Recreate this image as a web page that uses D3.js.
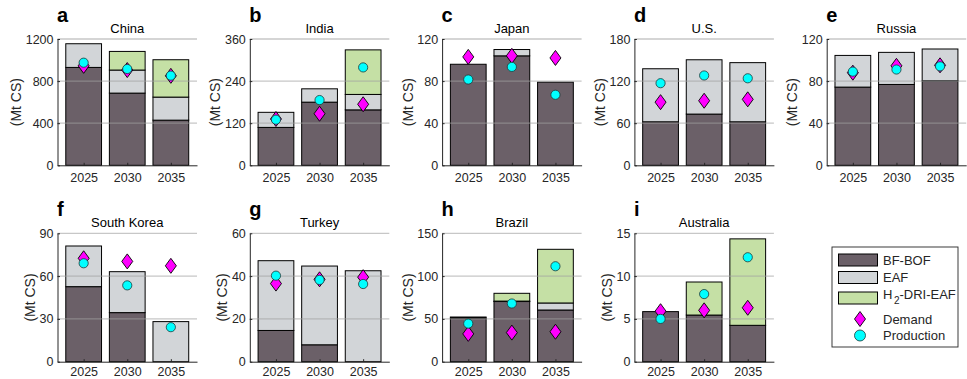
<!DOCTYPE html>
<html><head><meta charset="utf-8">
<script src="https://cdn.jsdelivr.net/npm/d3@7/dist/d3.min.js"></script>
<style>
html,body{margin:0;padding:0;background:#fff;}
svg{display:block;font-family:Arial,"Liberation Sans",sans-serif;}
</style></head>
<body>
<svg id="chart" width="967" height="379"></svg>
<script>
// ---------------- data ----------------
const countries = ["China","India","Japan","U.S.","Russia","South Korea","Turkey","Brazil","Australia"];
const letters = ["a","b","c","d","e","f","g","h","i"];
const years = ["2025","2030","2035"];
const bfbof = [[930,686,429],[108,180,158],[96,104,79],[62,73,62],[74.3,76.8,80.3],[52.6,34.4,0],[14.6,7.9,0],[51,70.3,60.4],[5.85,5.45,4.25]];
const eaf   = [[225,219,219],[43,38,44],[0,6,0],[75.6,77.4,84.3],[30.1,30.5,30.2],[28.5,28.7,28.1],[32.6,36.8,42.5],[1.2,0.5,8.2],[0,0,0]];
const h2dri = [[0,177,355],[0,0,127],[0,0,0],[0,0,0],[0,0,0],[0,0,0],[0,0,0],[0,9.1,62.7],[0,3.86,10.1]];
const demand     = [[945,905,850],[132,147,174],[103,104,102],[90,92,94],[88,94.5,95],[72.5,70.3,67.2],[36.5,38.5,39.5],[32.5,34,35],[5.9,6.0,6.3]];
const production = [[975,915,852],[130,186,279],[81.5,93.5,67],[117,128,124],[89,91,94],[69,53.5,24.2],[40.2,38.2,36.3],[44.5,68,111.5],[5.0,7.9,12.2]];
const yTicks = [[0,400,800,1200],[0,120,240,360],[0,40,80,120],[0,60,120,180],[0,40,80,120],[0,30,60,90],[0,20,40,60],[0,50,100,150],[0,5,10,15]];
const techNames = ["BF-BOF","EAF","H2-DRI-EAF"];
const markerNames = ["Demand","Production"];

// ---------------- style ----------------
const colors = ["#6b6068","#d2d5d8","#c5e0a5"];
const cDemand = "#ff00ff", cProd = "#00ffff";
const txt = "#262626";
const svg = d3.select("#chart");
const rowTop = [39, 233.3], rowH = [126.3, 128.4];
const xPad = [8, 5.5];
const panelW = 139.5;
const colLeft = c => 57.5 + c*192.3;

const diamond = (cx, cy) => `M${cx},${cy-7.5}L${cx+5.5},${cy}L${cx},${cy+7.5}L${cx-5.5},${cy}Z`;

countries.forEach((name, i) => {
  const row = i < 5 ? 0 : 1;
  const col = i < 5 ? i : i - 5;
  const x0 = colLeft(col), y0 = rowTop[row], h = rowH[row], w = panelW;
  const ticks = yTicks[i];
  const y = d3.scaleLinear().domain([0, ticks[ticks.length-1]]).range([h, 0]);
  const x = d3.scaleLinear().domain([0.4, 3.6]).range([0, w]);
  const bw = x(1.82) - x(1);
  const g = svg.append("g").attr("transform", `translate(${x0},${y0})`);

  // stacked bars
  years.forEach((yr, j) => {
    const vals = [bfbof[i][j], eaf[i][j], h2dri[i][j]];
    let base = 0;
    vals.forEach((v, k) => {
      if (v > 0) {
        g.append("rect")
          .attr("x", x(j+1) - bw/2)
          .attr("y", y(base + v))
          .attr("width", bw)
          .attr("height", y(base) - y(base + v))
          .attr("fill", colors[k])
          .attr("stroke", "#000")
          .attr("stroke-width", 1);
      }
      base += v;
    });
  });

  // grid (on top, semi-transparent)
  g.selectAll("line.grid").data(ticks.filter(t => t > 0)).enter().append("line")
    .attr("x1", 0).attr("x2", w)
    .attr("y1", d => y(d)).attr("y2", d => y(d))
    .attr("stroke", "#a2a2a2").attr("stroke-opacity", 0.6).attr("stroke-width", 1.3);

  // axes
  const ya = g.append("g").call(d3.axisLeft(y).tickValues(ticks).tickFormat(d3.format("d")).tickSizeInner(-2.5).tickSizeOuter(0).tickPadding(4));
  const xa = g.append("g").attr("transform", `translate(0,${h})`)
    .call(d3.axisBottom(x).tickValues([1,2,3]).tickFormat(d => years[d-1]).tickSizeInner(-2.5).tickSizeOuter(0).tickPadding(xPad[row]));
  [ya, xa].forEach(a => {
    a.selectAll("path,line").attr("stroke", txt).attr("stroke-width", 1);
    a.selectAll("text").attr("fill", txt).style("font-size", "12.5px").style("font-family", "Arial,'Liberation Sans',sans-serif");
  });

  // y label
  let maxW = 0;
  ya.selectAll("text").each(function(){ maxW = Math.max(maxW, this.getComputedTextLength()); });
  g.append("text")
    .attr("transform", `translate(${-4 - maxW - 9.5},${h/2}) rotate(-90)`)
    .attr("text-anchor", "middle").attr("dy", "0.35em")
    .attr("fill", txt).style("font-size", "14px")
    .text("(Mt CS)");

  // title & letter
  g.append("text").attr("x", w/2).attr("y", -6).attr("text-anchor", "middle")
    .attr("fill", "#000").style("font-size", "13px").text(name);
  g.append("text").attr("x", -0.5).attr("y", -17)
    .attr("fill", "#000").style("font-size", "20px").style("font-weight", "bold").text(letters[i]);

  // markers
  years.forEach((yr, j) => {
    g.append("path").attr("d", diamond(x(j+1), y(demand[i][j])))
      .attr("fill", cDemand).attr("stroke", "#000").attr("stroke-width", 0.9);
  });
  years.forEach((yr, j) => {
    g.append("circle").attr("cx", x(j+1)).attr("cy", y(production[i][j])).attr("r", 4.6)
      .attr("fill", cProd).attr("stroke", "#1d3a3a").attr("stroke-width", 0.8);
  });
});

// ---------------- legend ----------------
const lg = svg.append("g");
lg.append("rect").attr("x", 832).attr("y", 247).attr("width", 126).attr("height", 100)
  .attr("fill", "#fff").attr("stroke", txt).attr("stroke-width", 0.9);
const rowY = [260, 277.5, 298, 319, 335.5];
techNames.forEach((n, k) => {
  lg.append("rect").attr("x", 838.5).attr("y", rowY[k] - 6).attr("width", 39).attr("height", 12)
    .attr("fill", colors[k]).attr("stroke", "#000").attr("stroke-width", 1);
});
const lt = (k) => lg.append("text").attr("x", 883).attr("y", rowY[k]).attr("dy", "0.35em")
  .attr("fill", txt).style("font-size", "13px");
lt(0).text(techNames[0]);
lt(1).text(techNames[1]);
const t2 = lt(2).attr("dy", "0.1em");
t2.append("tspan").text("H");
t2.append("tspan").attr("dy", "5").attr("dx", "1.5").style("font-size", "10px").text("2");
t2.append("tspan").attr("dy", "-5").text("-DRI-EAF");
lg.append("path").attr("d", diamond(860, rowY[3])).attr("fill", cDemand).attr("stroke", "#000").attr("stroke-width", 0.9);
lt(3).text(markerNames[0]);
lg.append("circle").attr("cx", 860).attr("cy", rowY[4]).attr("r", 5.5).attr("fill", cProd).attr("stroke", "#1d3a3a").attr("stroke-width", 0.8);
lt(4).text(markerNames[1]);
</script>
</body></html>
